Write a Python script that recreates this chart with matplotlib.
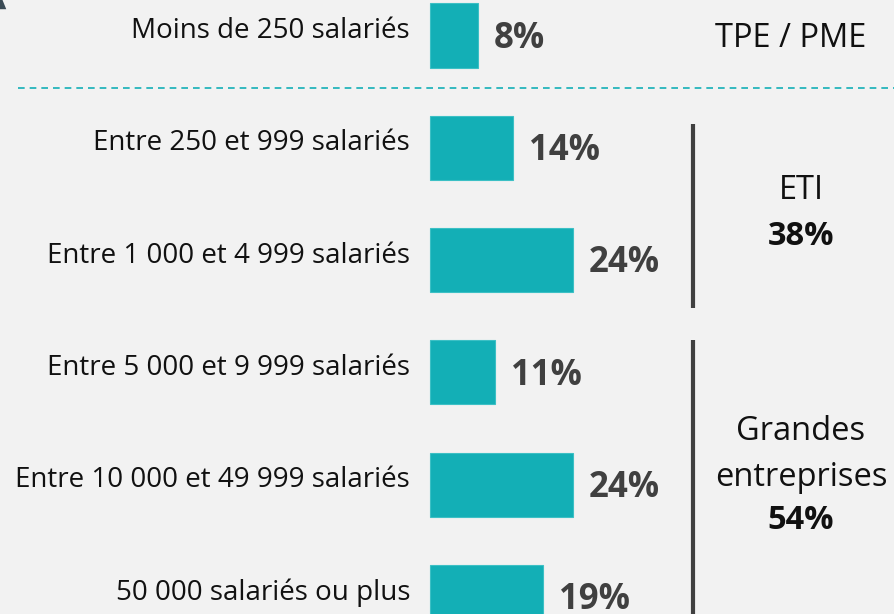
import matplotlib
matplotlib.use("Agg")
import matplotlib.pyplot as plt
from matplotlib.patches import Polygon

# data
categories = ["Moins de 250 salariés",
              "Entre 250 et 999 salariés",
              "Entre 1 000 et 4 999 salariés",
              "Entre 5 000 et 9 999 salariés",
              "Entre 10 000 et 49 999 salariés",
              "50 000 salariés ou plus"]
values = [8, 14, 24, 11, 24, 19]
group_names = ["TPE / PME", "ETI", "Grandes\nentreprises"]
group_totals = [None, "38%", "54%"]

teal = "#13afb6"
dark = "#404040"
bg = "#f2f2f2"
plt.rcParams['font.family'] = ['Open Sans', 'DejaVu Sans']

W, H = 894, 614
fig = plt.figure(figsize=(W/100, H/100), dpi=100, facecolor=bg)
ax = fig.add_axes([0, 0, 1, 1])
ax.set_facecolor(bg)

# pixel layout -> data limits
x0, ppu = 430, 5.95        # bar origin px, px per percent
y0, step = 35.5, 112.3     # first bar centre px, spacing px
ax.set_xlim(-x0/ppu, (W-x0)/ppu)
ax.set_ylim((H-y0)/step, -y0/step)
ax.axis('off')

pos = list(range(len(categories)))
ax.barh(pos, values, height=0.57, color=teal, edgecolor="#3cc0c5", linewidth=0.8)

for i, (c, v) in enumerate(zip(categories, values)):
    ax.text(-20/ppu, i - 0.04, c, ha='right', va='center', fontsize=20, color='#111111')
    ax.text(v + 16/ppu, i + 0.03, f"{v}%", ha='left', va='center', fontsize=25,
            fontweight='bold', color=dark)

# dashed separator
ax.plot([18/ppu - x0/ppu, (W-x0)/ppu], [0.467, 0.467], color=teal, lw=1.2,
        dashes=(4, 3))

# group brackets
gx = (693-x0)/ppu
ax.plot([gx, gx], [(124-y0)/step, (308-y0)/step], color=dark, lw=3, solid_capstyle='butt')
ax.plot([gx, gx], [(340-y0)/step, (H+5-y0)/step], color=dark, lw=3, solid_capstyle='butt')

tx = (801-x0)/ppu
gfs = 23.5
ax.text((791-x0)/ppu, 0.03, group_names[0], ha='center', va='center', fontsize=gfs, color='#111111')
ax.text(tx, 1.38, group_names[1], ha='center', va='center', fontsize=gfs, color='#111111')
ax.text(tx, 1.79, group_totals[1], ha='center', va='center', fontsize=gfs,
        fontweight='bold', color='#111111')
g1, g2 = group_names[2].split("\n")
ax.text(tx, 3.53, g1, ha='center', va='center', fontsize=gfs, color='#111111')
ax.text(tx, 3.94, g2, ha='center', va='center', fontsize=gfs, color='#111111')
ax.text(tx, 4.32, group_totals[2], ha='center', va='center', fontsize=gfs,
        fontweight='bold', color='#111111')

# small corner mark
fig.patches.append(Polygon([[-0.01, 0.985], [0.007, 0.985], [0.0, 1.01]],
                           closed=True, transform=fig.transFigure,
                           facecolor='#3a4a55', edgecolor='none'))

fig.savefig("out.png", dpi=100, facecolor=bg)
